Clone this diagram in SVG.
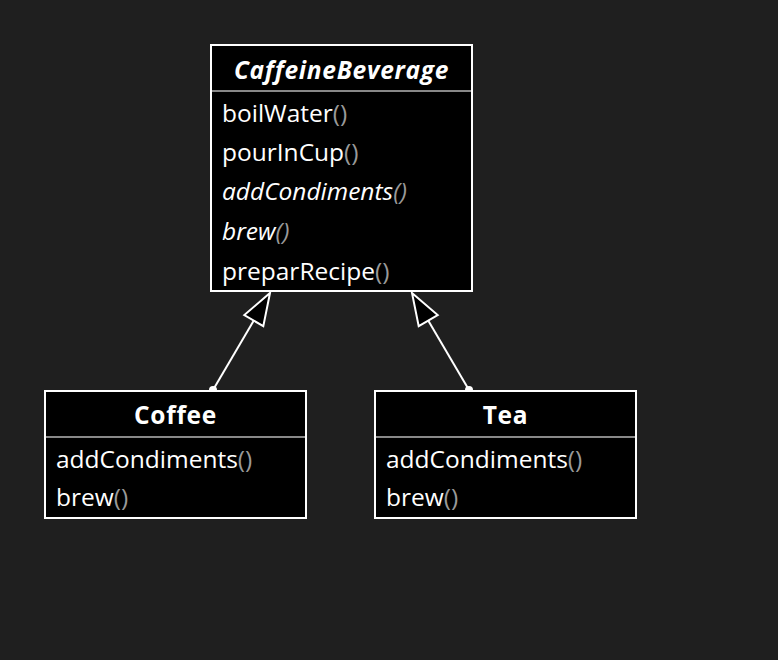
<svg xmlns="http://www.w3.org/2000/svg" width="778" height="660" viewBox="0 0 778 660">
<style>
.box{fill:#000;stroke:#fff;stroke-width:2}
.sep{stroke:#888;stroke-width:2}
.t{font-family:"Open Sans","Noto Sans",sans-serif;font-size:24.5px;fill:#fff}
.h{font-weight:bold;text-anchor:middle;letter-spacing:0.7px}
.i{font-style:italic}
.p{fill:#999}
.edge{stroke:#fff;stroke-width:2;fill:none}
.head{fill:#000;stroke:#fff;stroke-width:2;stroke-linejoin:miter}
.dot{fill:#fff}
</style>
<rect width="778" height="660" fill="#1f1f1f"/>
<g id="connectors">
<line class="edge" x1="213" y1="390" x2="253.8" y2="320.6"/>
<polygon class="head" points="270,293 263.3,326.2 244.3,315"/>
<circle class="dot" cx="213" cy="390" r="4"/>
<line class="edge" x1="469" y1="390" x2="428.2" y2="320.6"/>
<polygon class="head" points="412,293 437.7,315 418.7,326.2"/>
<circle class="dot" cx="469" cy="390" r="4"/>
</g>
<g id="CaffeineBeverage">
<rect class="box" x="211" y="45" width="261" height="246"/>
<line class="sep" x1="212" y1="91" x2="471" y2="91"/>
<text class="t h i" x="341.5" y="79">CaffeineBeverage</text>
<text class="t" x="222" y="122">boilWater<tspan class="p">()</tspan></text>
<text class="t" x="222" y="161">pourInCup<tspan class="p">()</tspan></text>
<text class="t i" x="222" y="200">addCondiments<tspan class="p">()</tspan></text>
<text class="t i" x="222" y="240">brew<tspan class="p">()</tspan></text>
<text class="t" x="222" y="280">preparRecipe<tspan class="p">()</tspan></text>
</g>
<g id="Coffee">
<rect class="box" x="45" y="391" width="261" height="127"/>
<line class="sep" x1="46" y1="437" x2="305" y2="437"/>
<text class="t h" x="175.5" y="424">Coffee</text>
<text class="t" x="56" y="468">addCondiments<tspan class="p">()</tspan></text>
<text class="t" x="56" y="506">brew<tspan class="p">()</tspan></text>
</g>
<g id="Tea">
<rect class="box" x="375" y="391" width="261" height="127"/>
<line class="sep" x1="376" y1="437" x2="635" y2="437"/>
<text class="t h" x="505.5" y="424">Tea</text>
<text class="t" x="386" y="468">addCondiments<tspan class="p">()</tspan></text>
<text class="t" x="386" y="506">brew<tspan class="p">()</tspan></text>
</g>
</svg>
